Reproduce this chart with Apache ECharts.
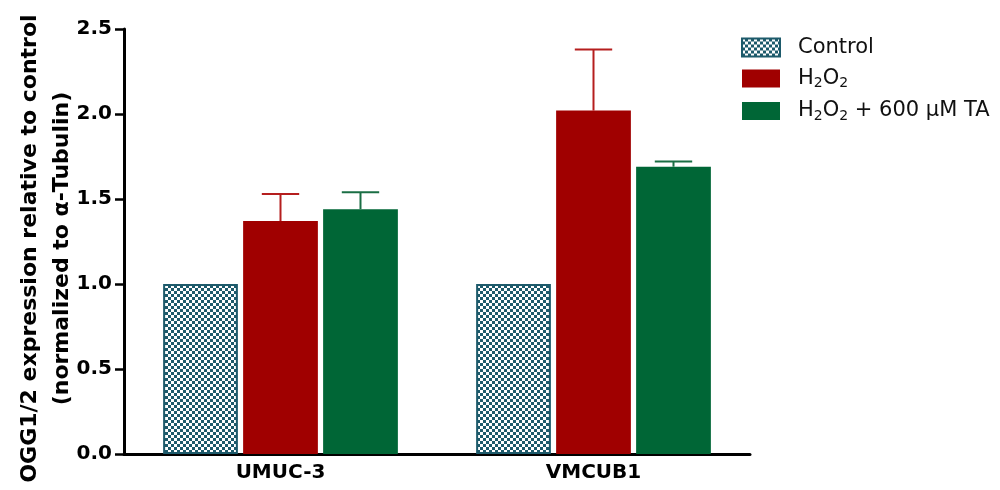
<!DOCTYPE html>
<html>
<head>
<meta charset="utf-8">
<script src="https://cdn.jsdelivr.net/npm/echarts@6/dist/echarts.min.js"></script>
<style>
  html, body { margin: 0; padding: 0; background: #ffffff; }
  #chart { width: 1000px; height: 490px; }
</style>
</head>
<body>
<div id="chart"></div>
<script>
// Cell lines on the x axis
const cellLines = ['UMUC-3', 'VMCUB1'];
// Treatment groups (legend entries)
const groupNames = ['Control', 'H2O2', 'H2O2 + 600 μM TA'];
// Mean OGG1/2 expression relative to control
const controlValues = [1.0, 1.0];
const h2o2Values = [1.37, 2.02];
const h2o2TaValues = [1.44, 1.69];
// Upper ends of the error bars (mean + SEM)
const h2o2Upper = [1.53, 2.38];
const h2o2TaUpper = [1.54, 1.72];
// Y axis ticks
const yTicks = [0, 0.5, 1.0, 1.5, 2.0, 2.5];

const FONT = 'DejaVu Sans';
const TEAL = '#1d5a6b';
const RED = '#a00000';
const GREEN = '#006636';

// Checkerboard fill for the control bars
function checkerPattern() {
  const c = document.createElement('canvas');
  c.width = 6; c.height = 6;
  const g = c.getContext('2d');
  g.fillStyle = TEAL;
  g.fillRect(0, 0, 6, 6);
  g.fillStyle = '#ffffff';
  g.fillRect(0, 0, 3, 3);
  g.fillRect(3, 3, 3, 3);
  return c;
}

const BAR_CAT_GAP = 0.25;
const BAR_GAP = 0.07;
const N_BARS = 3;

// Upward-only error bar with a cap, drawn over the bar of series `idx`
function errorRenderer(idx, color) {
  return function (params, api) {
    const ci = api.value(0);
    const top = api.coord([ci, api.value(1)]);
    const base = api.coord([ci, api.value(2)]);
    const band = api.size([1, 0])[0];
    const bw = band * (1 - BAR_CAT_GAP) / (N_BARS + (N_BARS - 1) * BAR_GAP);
    const total = bw * N_BARS + bw * BAR_GAP * (N_BARS - 1);
    const x = top[0] - total / 2 + idx * bw * (1 + BAR_GAP) + bw / 2;
    const capHalf = bw * 0.25;
    const style = { stroke: color, lineWidth: 2 };
    return {
      type: 'group',
      children: [
        { type: 'line', shape: { x1: x, y1: base[1], x2: x, y2: top[1] }, style: style },
        { type: 'line', shape: { x1: x - capHalf, y1: top[1], x2: x + capHalf, y2: top[1] }, style: style }
      ]
    };
  };
}

function errorData(upper, means) {
  return cellLines.map((c, i) => [i, upper[i], means[i]]);
}

const chart = echarts.init(document.getElementById('chart'), null, { renderer: 'canvas' });

const legendLabel = name => name.replace(/H2O2/g, 'H{s|2}O{s|2}');

chart.setOption({
  backgroundColor: '#ffffff',
  animation: false,
  textStyle: { fontFamily: FONT },
  grid: { left: 124, right: 250, top: 29, bottom: 36, containLabel: false, outerBoundsMode: 'none' },
  legend: {
    orient: 'vertical',
    left: 741,
    top: 37,
    padding: 0,
    icon: 'rect',
    itemWidth: 38,
    itemHeight: 18,
    itemGap: 10,
    data: groupNames,
    formatter: legendLabel,
    textStyle: {
      fontFamily: FONT,
      fontSize: 21,
      color: '#111111',
      padding: [0, 0, 0, 13],
      rich: {
        s: { fontFamily: FONT, fontSize: 14, verticalAlign: 'bottom', padding: [10, 0, 0, 0] }
      }
    }
  },
  xAxis: {
    type: 'category',
    data: cellLines,
    axisLine: { lineStyle: { color: '#000000', width: 3 } },
    axisTick: { alignWithLabel: true, length: 8, lineStyle: { color: '#000000', width: 2.5 } },
    axisLabel: { color: '#000000', fontFamily: FONT, fontWeight: 'bold', fontSize: 20, margin: 9 }
  },
  yAxis: {
    type: 'value',
    min: yTicks[0],
    max: yTicks[yTicks.length - 1],
    interval: yTicks[1] - yTicks[0],
    name: 'OGG1/2 expression relative to control\n(normalized to α-Tubulin)',
    nameLocation: 'middle',
    nameGap: 46,
    nameMoveOverlap: false,
    nameTextStyle: {
      color: '#000000', fontFamily: FONT, fontWeight: 'bold', fontSize: 22, lineHeight: 32,
      padding: [0, 14, 0, 0]
    },
    axisLine: { show: true, lineStyle: { color: '#000000', width: 3 } },
    axisTick: { show: true, length: 9, lineStyle: { color: '#000000', width: 2.5 } },
    splitLine: { show: false },
    axisLabel: {
      color: '#000000', fontFamily: FONT, fontWeight: 'bold', fontSize: 20, margin: 12,
      formatter: v => v.toFixed(1)
    }
  },
  series: [
    {
      name: groupNames[0], type: 'bar', data: controlValues,
      barCategoryGap: (BAR_CAT_GAP * 100) + '%', barGap: (BAR_GAP * 100) + '%',
      itemStyle: { color: { image: checkerPattern(), repeat: 'repeat' }, borderColor: TEAL, borderWidth: 2 }
    },
    {
      name: groupNames[1], type: 'bar', data: h2o2Values,
      itemStyle: { color: RED }
    },
    {
      name: groupNames[2], type: 'bar', data: h2o2TaValues,
      itemStyle: { color: GREEN }
    },
    {
      type: 'custom', renderItem: errorRenderer(1, '#b51e1e'),
      data: errorData(h2o2Upper, h2o2Values), z: 3
    },
    {
      type: 'custom', renderItem: errorRenderer(2, '#1a6e44'),
      data: errorData(h2o2TaUpper, h2o2TaValues), z: 3
    }
  ]
});
</script>
</body>
</html>
